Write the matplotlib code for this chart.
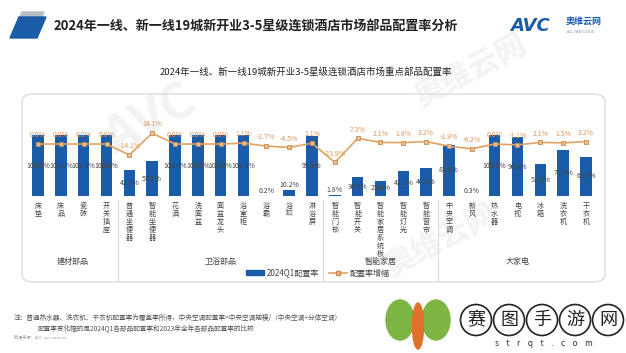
import matplotlib
matplotlib.use("Agg")
import matplotlib.pyplot as plt
from matplotlib.patches import FancyBboxPatch, Polygon, Ellipse
from matplotlib.lines import Line2D

plt.rcParams['font.family'] = ['Noto Sans CJK SC', 'DejaVu Sans']

# data
categories = ["床垫", "床品", "瓷砖", "开关插座",
              "普通坐便器", "智能坐便器", "花洒", "洗面盆", "面盆龙头", "浴室柜", "浴霸", "浴缸", "淋浴屏",
              "智能门锁", "智能开关", "智能家居系统板", "智能灯光", "智能窗帘",
              "中央空调", "新风", "热水器", "电视", "冰箱", "洗衣机", "干衣机"]
rate_2024q1 = [100.0, 100.0, 100.0, 100.0,
               42.9, 57.1, 100.0, 100.0, 100.0, 100.0, 0.2, 10.2, 99.1,
               1.8, 30.4, 25.0, 41.1, 46.4,
               83.9, 0.3, 100.0, 96.4, 51.8, 75.4, 64.3]
rate_change = [0.0, 0.0, 0.0, 0.0,
               -14.1, 14.1, 0.0, 0.0, 0.0, 1.1, -2.7, -4.5, 1.1,
               -23.9, 7.3, 2.1, 1.8, 3.2,
               -2.9, -6.2, 0.0, -1.1, 2.1, 1.5, 3.2]
groups = ["建材部品", "卫浴部品", "智能家居", "大家电"]
group_sizes = [4, 9, 5, 7]

W, H = 626, 353
BLUE = "#1B5CA8"
ORANGE = "#E2A262"
GREY_TXT = "#444444"


def fx(x):
    return x / W


def fy(y):
    return 1 - y / H


fig = plt.figure(figsize=(W / 100, H / 100), dpi=100)
fig.patch.set_facecolor("white")

# faint background watermarks (behind the axes)
for (wx, wy, txt, fs) in [(150, 120, "AVC", 36), (470, 70, "奥维云网", 22), (440, 240, "奥维云网", 22)]:
    fig.text(fx(wx), fy(wy), txt, fontsize=fs, color="#F3F3F3", rotation=28,
             ha="center", va="center", fontweight="bold", zorder=-1)

# header decoration
fig.patches.append(Polygon([(fx(14), fy(32)), (fx(22), fy(12)), (fx(44), fy(12)), (fx(36), fy(32))],
                           closed=True, transform=fig.transFigure, color="#B8BEC8", zorder=1))
fig.patches.append(Polygon([(fx(10), fy(38)), (fx(19), fy(17)), (fx(46), fy(17)), (fx(37), fy(38))],
                           closed=True, transform=fig.transFigure, color=BLUE, zorder=2))
fig.text(fx(54), fy(27), "2024年一线、新一线19城新开业3-5星级连锁酒店市场部品配置率分析",
         fontsize=9.4, fontweight="bold", color="#222222", va="center", ha="left")

# AVC logo
fig.text(fx(510), fy(26), "AVC", fontsize=13, fontweight="bold", color=BLUE,
         va="center", ha="left", family=["DejaVu Sans"], style="italic")
fig.text(fx(566), fy(22), "奥维云网", fontsize=6.5, color=BLUE, va="center", ha="left", fontweight="bold")
fig.text(fx(567), fy(32), "ALL VIEW CLOUD", fontsize=2.5, color="#7A8AA8", va="center", ha="left")

# chart subtitle
fig.text(fx(306), fy(72), "2024年一线、新一线19城新开业3-5星级连锁酒店市场重点部品配置率",
         fontsize=6.8, color="#222222", ha="center", va="center")

# rounded frame
fig.patches.append(FancyBboxPatch((fx(22), fy(282)), fx(605) - fx(22), fy(94) - fy(282),
                                  boxstyle="round,pad=0,rounding_size=0.02",
                                  transform=fig.transFigure, fill=False,
                                  edgecolor="#DCDCDC", linewidth=1.0, zorder=0))

# main axes
ax = fig.add_axes([fx(26.6), fy(196), fx(597.4) - fx(26.6), 70.15 / H])
x = list(range(len(categories)))
ax.bar(x, rate_2024q1, width=0.5, color=BLUE, zorder=2)
ax.set_xlim(-0.5, len(categories) - 0.5)
ax.set_ylim(0, 115)
ax.set_xticks(x, labels=["\n".join(c) for c in categories])
ax.tick_params(axis="x", length=0, pad=4, labelsize=5.1, labelcolor=GREY_TXT)
for lab in ax.get_xticklabels():
    lab.set_linespacing(1.0)
ax.set_yticks([])
for s in ax.spines.values():
    s.set_visible(False)
ax.patch.set_alpha(0)

for i, v in enumerate(rate_2024q1):
    if v < 15:
        ax.text(i, v + 2, f"{v:.1f}%", ha="center", va="bottom", fontsize=5, color=GREY_TXT, zorder=5)
    else:
        ax.text(i, v / 2, f"{v:.1f}%", ha="center", va="center", fontsize=5, color=GREY_TXT, zorder=5)

ax2 = ax.twinx()
ax2.set_ylim(-67.5, 23.6)
ax2.plot(x, rate_change, color=ORANGE, linewidth=1.2, marker="s", markersize=3.2,
         markerfacecolor="#E9BE90", markeredgecolor="#C98A4A", markeredgewidth=0.6, zorder=4)
for i, g in enumerate(rate_change):
    ax2.annotate(f"{g:.1f}%", (i, g), xytext=(0, 3.5), textcoords="offset points",
                 ha="center", va="bottom", fontsize=5, color="#E09555")
ax2.set_yticks([])
for s in ax2.spines.values():
    s.set_visible(False)

# group separators and names
start = 0
for k, (name, n) in enumerate(zip(groups, group_sizes)):
    centre = start + (n - 1) / 2
    ax.annotate(name, xy=(centre, 0), xycoords=("data", "axes fraction"),
                xytext=(0, -47), textcoords="offset points", ha="center", va="center",
                fontsize=5.8, color=GREY_TXT, annotation_clip=False)
    if k > 0:
        sep = start - 0.5
        xs = ax.transData.transform((sep, 0))[0] / fig.dpi / fig.get_figwidth()
        fig.add_artist(Line2D([xs, xs], [fy(200), fy(281)], color="#DCDCDC", linewidth=0.8))
    start += n

# legend
handles = [plt.Rectangle((0, 0), 1, 1, color=BLUE),
           Line2D([0], [0], color=ORANGE, linewidth=1.2, marker="s", markersize=3.2,
                  markerfacecolor="#E9BE90", markeredgecolor="#C98A4A")]
fig.legend(handles, ["2024Q1配置率", "配置率增幅"], loc="center", bbox_to_anchor=(fx(318), fy(273)),
           ncol=2, frameon=False, fontsize=5.8, handlelength=2.2, handleheight=0.5,
           columnspacing=1.2, handletextpad=0.4, labelcolor=GREY_TXT)

# footnote
fig.text(fx(14), fy(318), "注：普通热水器、洗衣机、干衣机配置率为覆盖率所得，中央空调配置率=中央空调规模/（中央空调+分体空调）",
         fontsize=4.8, color="#555555", ha="left", va="center")
fig.text(fx(38), fy(328), "配置率变化幅的是2024Q1各部品配置率和2023年全年各部品配置率的比较",
         fontsize=4.8, color="#555555", ha="left", va="center")
fig.text(fx(14), fy(337), "数据来源：AVC  avc.com.cn", fontsize=3, color="#999999", ha="left", va="center")

# site watermark bottom right
fig.patches.append(Ellipse((fx(400), fy(320)), fx(28), 40 / H, transform=fig.transFigure,
                           color="#7DB544", zorder=3))
fig.patches.append(Ellipse((fx(436), fy(320)), fx(28), 40 / H, transform=fig.transFigure,
                           color="#7DB544", zorder=3))
fig.patches.append(Ellipse((fx(418), fy(326)), fx(11), 46 / H, transform=fig.transFigure,
                           color="#E0702A", zorder=4))
for ch, cx in zip("赛图手游网", [476, 509, 542, 575, 608]):
    fig.patches.append(Ellipse((fx(cx), fy(320)), fx(31), 31 / H, transform=fig.transFigure,
                               fill=False, edgecolor="#222222", linewidth=1.2, zorder=3))
    fig.text(fx(cx), fy(320), ch, fontsize=13, ha="center", va="center", color="#222222")
fig.text(fx(544), fy(344), "s    t    r    q    t    .    c    o    m", fontsize=6, ha="center",
         va="center", color="#333333")

fig.savefig("out.png", dpi=100)
